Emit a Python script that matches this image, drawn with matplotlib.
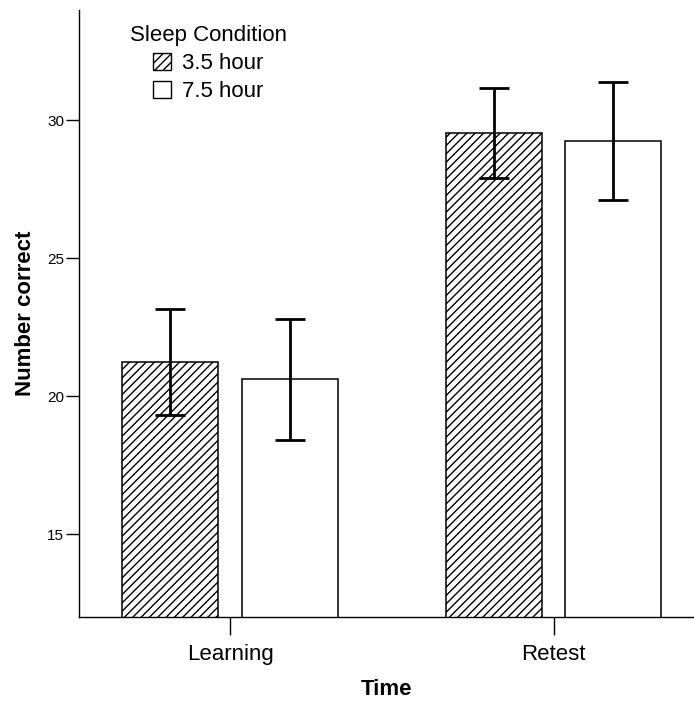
import numpy as np
import matplotlib.pyplot as plt
from matplotlib.patches import Patch

plt.rcParams['font.family'] = ['Liberation Sans', 'DejaVu Sans']
plt.rcParams['hatch.linewidth'] = 1.0

# mean number correct per session, with error bar half-widths
categories = ['Learning', 'Retest']
short_sleep = [21.26, 29.55]
short_sleep_err = [1.92, 1.62]
long_sleep = [20.62, 29.25]
long_sleep_err = [2.20, 2.13]
group_labels = ['3.5 hour', '7.5 hour']

fig = plt.figure(figsize=(6.94, 7.02), dpi=100)
ax = fig.add_axes([0.1143, 0.1207, 0.8857, 0.8651])

x = np.arange(len(categories))
width = 0.297
offset = 0.185

ax.bar(x - offset, short_sleep, width, color='white', edgecolor='black',
       hatch='////', linewidth=1.1, zorder=2)
ax.bar(x + offset, long_sleep, width, color='white', edgecolor='black',
       linewidth=1.1, zorder=2)

err_kw = dict(fmt='none', ecolor='black', elinewidth=2.0, capsize=10.8,
              capthick=2.0, zorder=3)
ax.errorbar(x - offset, short_sleep, yerr=short_sleep_err, **err_kw)
ax.errorbar(x + offset, long_sleep, yerr=long_sleep_err, **err_kw)

ax.set_xlim(-0.4659, 1.4343)
ax.set_ylim(12, 34)
ax.set_yticks([15, 20, 25, 30])
ax.set_xticks(x)
ax.set_xticklabels(categories, fontsize=16)
ax.tick_params(axis='y', labelsize=11, length=9.4, width=1.0, pad=1.5)
ax.tick_params(axis='x', length=13, width=1.0, pad=6.5)

for side in ['top', 'right']:
    ax.spines[side].set_visible(False)
for side in ['left', 'bottom']:
    ax.spines[side].set_linewidth(1.0)

ax.set_ylabel('Number correct', fontsize=16, fontweight='bold', labelpad=8)
ax.set_xlabel('Time', fontsize=16, fontweight='bold', labelpad=10)

handles = [Patch(facecolor='white', edgecolor='black', hatch='////', linewidth=1.0),
           Patch(facecolor='white', edgecolor='black', linewidth=1.0)]
leg = fig.legend(handles, group_labels, title='Sleep Condition',
                 loc='upper center', bbox_to_anchor=(208 / 694, 1 - 14 / 702),
                 frameon=False, fontsize=16, title_fontsize=16,
                 handlelength=0.81, handleheight=0.81, handletextpad=0.5,
                 labelspacing=0.3, borderpad=0)

fig.savefig('out.png', dpi=100)
